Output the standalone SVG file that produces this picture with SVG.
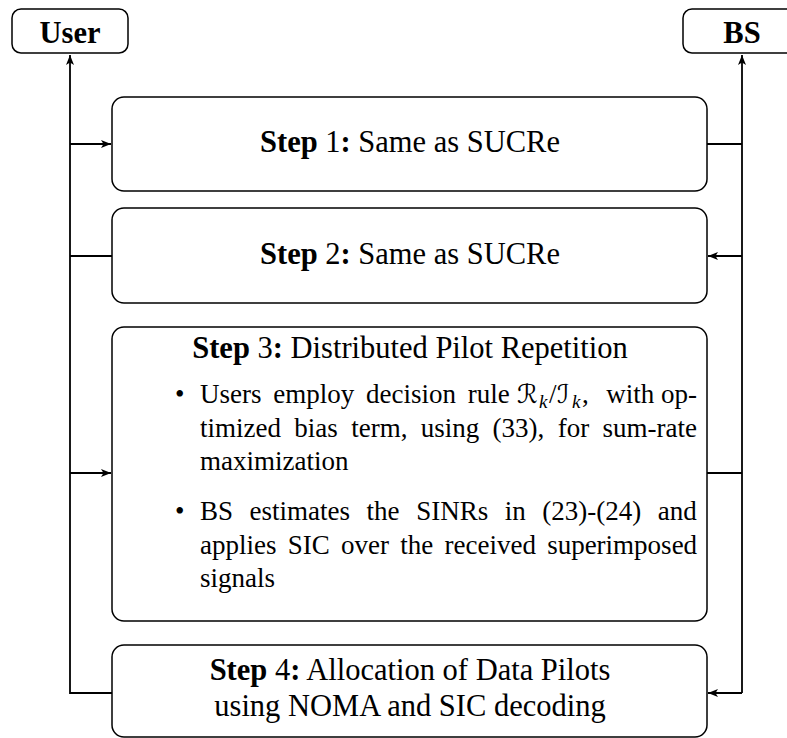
<svg xmlns="http://www.w3.org/2000/svg" width="787" height="738" viewBox="0 0 787 738">
<style>
.box{fill:#fff;stroke:#000;stroke-width:1.5}
.con{fill:none;stroke:#000;stroke-width:1.8}
.t{font-family:'Liberation Serif','Tinos','Times New Roman','DejaVu Serif',serif;font-size:30.5px;fill:#000}
.b{font-weight:bold}
.s{font-family:'Liberation Serif','Tinos','Times New Roman','DejaVu Serif',serif;font-size:27px;fill:#000}
.m{font-family:'DejaVu Serif','DejaVu Sans',serif;font-size:26px}
.sub{font-style:italic;font-size:19px}
</style>
<defs>
<marker id="ar" markerUnits="userSpaceOnUse" markerWidth="12" markerHeight="10" refX="10" refY="4" orient="auto">
<path d="M0,0 L10,4 L0,8 L2.5,4 z" fill="#000"/>
</marker>
</defs>
<g id="connectors">
<path class="con" d="M112,693 H70 V55" marker-end="url(#ar)"/>
<path class="con" d="M742,693 V55" marker-end="url(#ar)"/>
<path class="con" d="M70,144 H111" marker-end="url(#ar)"/>
<path class="con" d="M707,144 H742"/>
<path class="con" d="M70,256 H112"/>
<path class="con" d="M742,256 H708" marker-end="url(#ar)"/>
<path class="con" d="M70,473 H111" marker-end="url(#ar)"/>
<path class="con" d="M707,473 H742"/>
<path class="con" d="M742,693 H708" marker-end="url(#ar)"/>
</g>
<g id="user">
<rect class="box" x="12" y="9" width="116" height="44" rx="9"/>
<text class="t b" x="70" y="43" text-anchor="middle">User</text>
</g>
<g id="bs">
<rect class="box" x="683" y="9" width="118" height="44" rx="9"/>
<text class="t b" x="742" y="43" text-anchor="middle">BS</text>
</g>
<g id="step1">
<rect class="box" x="112" y="97" width="595" height="94" rx="12"/>
<text class="t" x="410" y="152" text-anchor="middle"><tspan class="b">Step</tspan> 1<tspan class="b">:</tspan> Same as SUCRe</text>
</g>
<g id="step2">
<rect class="box" x="112" y="208" width="595" height="95" rx="12"/>
<text class="t" x="410" y="264" text-anchor="middle"><tspan class="b">Step</tspan> 2<tspan class="b">:</tspan> Same as SUCRe</text>
</g>
<g id="step3">
<rect class="box" x="112" y="327" width="595" height="294" rx="12"/>
<text class="t" x="410" y="358" text-anchor="middle"><tspan class="b">Step</tspan> 3<tspan class="b">:</tspan> Distributed Pilot Repetition</text>
<text class="s" x="175" y="403">•</text>
<text class="s" x="200" y="403" word-spacing="5">Users employ decision rule</text>
<text class="s" y="403"><tspan class="m" x="517">ℛ</tspan><tspan class="sub" x="539" dy="5">k</tspan><tspan x="549" dy="-5">/</tspan><tspan class="m" x="557">ℐ</tspan><tspan class="sub" x="572" dy="5">k</tspan><tspan x="582" dy="-5">,</tspan></text>
<text class="s" x="697" y="403" text-anchor="end">with op-</text>
<text class="s" x="200" y="437" word-spacing="6.6">timized bias term, using (33), for sum-rate</text>
<text class="s" x="200" y="470">maximization</text>
<text class="s" x="175" y="520">•</text>
<text class="s" x="200" y="520" word-spacing="9.8">BS estimates the SINRs in (23)-(24) and</text>
<text class="s" x="200" y="554" word-spacing="4.5">applies SIC over the received superimposed</text>
<text class="s" x="200" y="587">signals</text>
</g>
<g id="step4">
<rect class="box" x="112" y="645" width="595" height="92" rx="12"/>
<text class="t" x="410" y="680" text-anchor="middle"><tspan class="b">Step</tspan> 4<tspan class="b">:</tspan> Allocation of Data Pilots</text>
<text class="t" x="410" y="716" text-anchor="middle">using NOMA and SIC decoding</text>
</g>
</svg>
